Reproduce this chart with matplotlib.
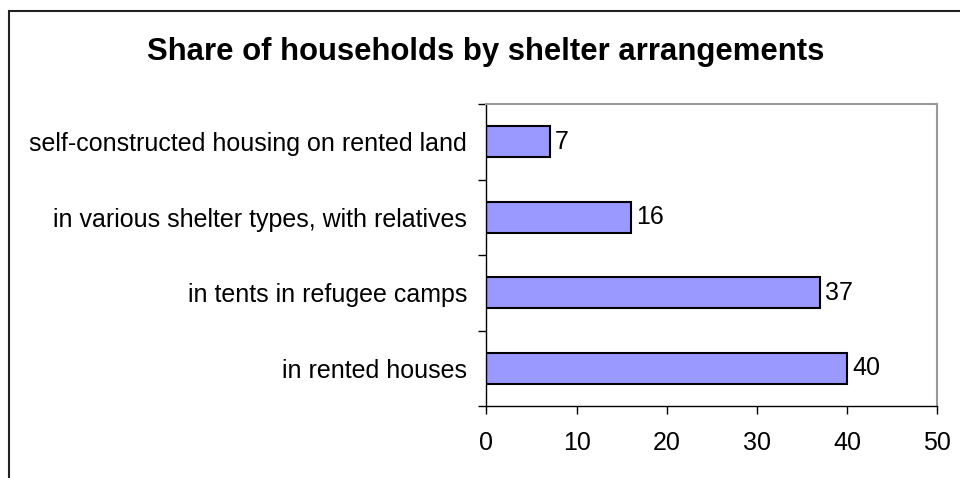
import matplotlib
matplotlib.use("Agg")
import matplotlib.pyplot as plt
from matplotlib.patches import Rectangle

categories = ["in rented houses", "in tents in refugee camps",
              "in various shelter types, with relatives",
              "self-constructed housing on rented land"]
values = [40, 37, 16, 7]
xticks = [0, 10, 20, 30, 40, 50]
title = "Share of households by shelter arrangements"

plt.rcParams['font.family'] = ['Liberation Sans', 'DejaVu Sans']

W, H = 960, 478
fig = plt.figure(figsize=(W/100, H/100), dpi=100)
ax = fig.add_axes([486.5/W, 1-406/H, (937-486.5)/W, (406-104)/H])

pos = list(range(len(categories)))
bars = ax.barh(pos, values, height=0.41, color="#9999FF", edgecolor="black", linewidth=1.5)
ax.set_xlim(0, 50)
ax.set_ylim(-0.5, len(categories)-0.5)
ax.set_xticks(xticks)
ax.set_xticklabels([str(t) for t in xticks], fontsize=18)
ax.set_yticks(pos)
ax.set_yticklabels(categories, fontsize=18)
ax.tick_params(axis='y', length=0, pad=14)
ax.set_yticks([p + 0.5 for p in [-1] + pos], minor=True)
ax.tick_params(axis='y', which='minor', length=6, width=1, direction='out')
ax.tick_params(axis='x', length=6, width=1, direction='out', pad=12)

for s in ['left', 'bottom']:
    ax.spines[s].set_color('black')
    ax.spines[s].set_linewidth(1)
for s in ['top', 'right']:
    ax.spines[s].set_color('#999999')
    ax.spines[s].set_linewidth(1.5)

for p, v in zip(pos, values):
    ax.annotate(str(v), (v, p), xytext=(4, 0), textcoords='offset points',
                va='center', ha='left', fontsize=18)

fig.text(486/W, 1-52/H, title, ha='center', va='center', fontsize=22.4, fontweight='bold')

fig.patches.append(Rectangle((9/W, -0.1), 1.1, 1+0.1-11/H, transform=fig.transFigure,
                             fill=False, edgecolor='#222222', linewidth=1.5))

fig.savefig("out.png", dpi=100)
